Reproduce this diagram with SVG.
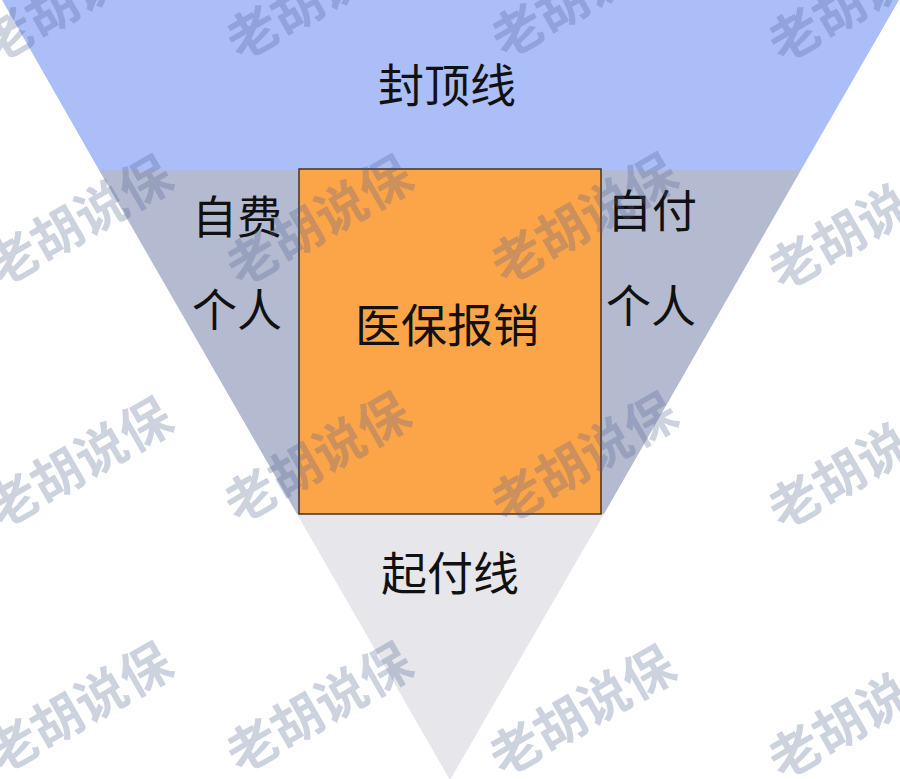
<svg xmlns="http://www.w3.org/2000/svg" width="900" height="779" viewBox="0 0 900 779">
<style>
.lbl{font-family:"Noto Sans CJK SC","Noto Sans",sans-serif;font-size:46px;fill:#111;text-anchor:middle}
.side{font-family:"Noto Sans CJK SC","Noto Sans",sans-serif;font-size:45px;fill:#111;text-anchor:middle}
.wm{font-family:"Noto Sans CJK SC",sans-serif;font-size:51px;font-weight:700;fill:#4c5c8c;fill-opacity:0.28}
</style>
<rect x="0" y="0" width="900" height="779" fill="#ffffff"/>
<g id="band-top">
<polygon points="2,0 899,0 801,170 99,170" fill="#abbef8"/>
<text class="lbl" x="447" y="102">封顶线</text>
</g>
<g id="band-mid">
<polygon points="99,170 801,170 604,514 297,514" fill="#b4bbd1"/>
</g>
<g id="band-bottom">
<polygon points="297,514 604,514 450,780" fill="#e6e6eb"/>
<text class="lbl" x="450" y="590">起付线</text>
</g>
<g id="box">
<rect x="299" y="169" width="302" height="345" fill="#fca448" stroke="#4a3018" stroke-width="1.5"/>
<text class="lbl" x="447" y="342">医保报销</text>
</g>
<g id="left-label">
<text class="side" x="237" y="234">自费</text>
<text class="side" x="237" y="327">个人</text>
</g>
<g id="right-label">
<text class="side" x="652" y="228">自付</text>
<text class="side" x="651" y="323">个人</text>
</g>
<g id="watermarks">
<text class="wm" transform="translate(-5,64) rotate(-30)">老胡说保</text>
<text class="wm" transform="translate(240,62) rotate(-30)">老胡说保</text>
<text class="wm" transform="translate(505,60) rotate(-30)">老胡说保</text>
<text class="wm" transform="translate(782,64) rotate(-30)">老胡说保</text>
<text class="wm" transform="translate(0,288) rotate(-30)">老胡说保</text>
<text class="wm" transform="translate(240,288) rotate(-30)">老胡说保</text>
<text class="wm" transform="translate(505,286) rotate(-30)">老胡说保</text>
<text class="wm" transform="translate(782,292) rotate(-30)">老胡说保</text>
<text class="wm" transform="translate(0,530) rotate(-30)">老胡说保</text>
<text class="wm" transform="translate(238,525) rotate(-30)">老胡说保</text>
<text class="wm" transform="translate(505,525) rotate(-30)">老胡说保</text>
<text class="wm" transform="translate(782,531) rotate(-30)">老胡说保</text>
<text class="wm" transform="translate(0,775) rotate(-30)">老胡说保</text>
<text class="wm" transform="translate(240,775) rotate(-30)">老胡说保</text>
<text class="wm" transform="translate(503,778) rotate(-30)">老胡说保</text>
<text class="wm" transform="translate(782,781) rotate(-30)">老胡说保</text>
</g>
</svg>
